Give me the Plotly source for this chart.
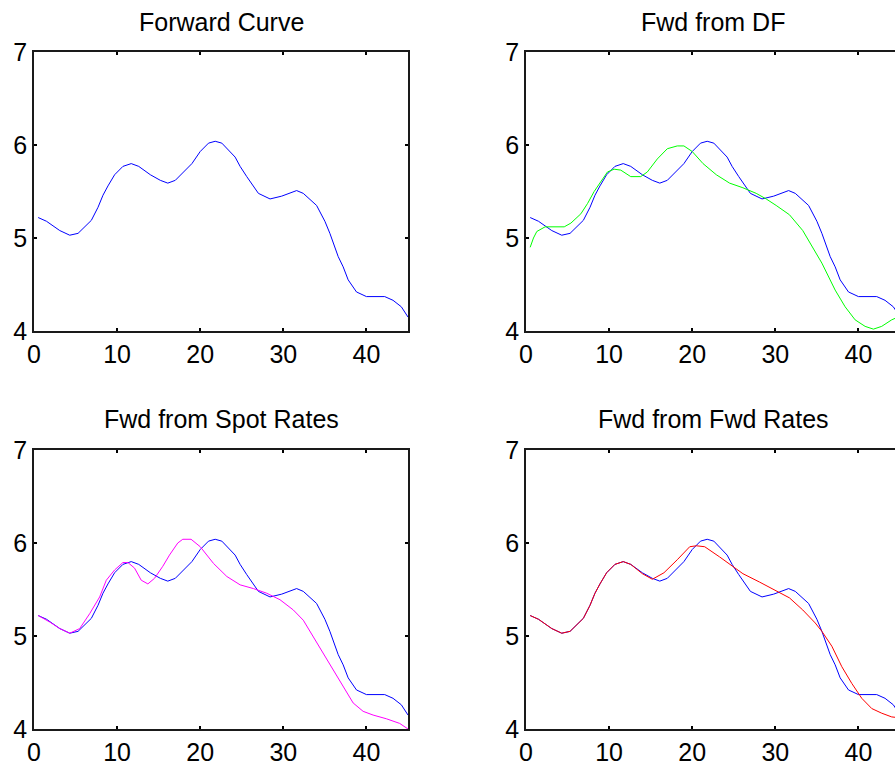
import plotly.graph_objects as go

# ---------------- data ----------------
fwd_x = [0.5, 1.5, 3.1, 4.3, 5.3, 6.9, 7.7, 8.3, 8.9, 9.7, 10.7, 11.7, 12.6, 14.0, 15.2,
         16.1, 17.0, 19.0, 20.0, 21.0, 21.8, 22.6, 24.2, 24.8, 25.6, 27.0, 28.4, 29.8,
         31.6, 32.4, 34.0, 35.0, 35.6, 36.2, 36.6, 37.2, 37.8, 38.8, 40.0, 42.2, 43.2,
         44.2, 45.0]
fwd_y = [5.22, 5.18, 5.08, 5.03, 5.05, 5.19, 5.33, 5.46, 5.56, 5.68, 5.77, 5.80, 5.77,
         5.68, 5.62, 5.59, 5.62, 5.80, 5.93, 6.02, 6.04, 6.02, 5.87, 5.77, 5.66, 5.48,
         5.42, 5.45, 5.51, 5.48, 5.35, 5.18, 5.05, 4.91, 4.80, 4.69, 4.55, 4.42, 4.37,
         4.37, 4.33, 4.26, 4.15]

df_x = [0.5, 0.9, 1.3, 2.3, 4.6, 5.4, 6.6, 7.4, 8.2, 9.0, 9.8, 10.6, 11.4, 12.6, 13.8,
        14.6, 15.8, 17.0, 18.2, 19.0, 20.0, 21.3, 22.9, 24.5, 26.1, 27.7, 28.9, 30.1,
        31.7, 33.3, 34.4, 35.6, 37.2, 38.4, 39.6, 40.8, 41.8, 42.8, 44.0, 45.0]
df_y = [4.90, 5.00, 5.07, 5.12, 5.12, 5.16, 5.26, 5.37, 5.50, 5.60, 5.71, 5.74, 5.73,
        5.66, 5.66, 5.71, 5.85, 5.96, 5.99, 5.99, 5.93, 5.80, 5.68, 5.59, 5.54, 5.48,
        5.42, 5.35, 5.25, 5.08, 4.91, 4.73, 4.44, 4.26, 4.12, 4.05, 4.02, 4.05, 4.12,
        4.16]

spot_x = [0.5, 1.9, 3.1, 4.3, 5.5, 6.7, 7.9, 8.7, 9.7, 10.7, 11.3, 12.1, 12.9, 13.7,
          14.5, 15.5, 16.3, 17.3, 17.9, 18.9, 20.0, 21.6, 23.2, 24.8, 26.4, 28.0, 29.6,
          31.2, 32.4, 33.6, 34.8, 36.0, 37.2, 38.4, 39.6, 40.8, 42.4, 44.0, 45.0]
spot_y = [5.22, 5.15, 5.08, 5.03, 5.08, 5.24, 5.42, 5.60, 5.71, 5.79, 5.79, 5.73, 5.60,
          5.56, 5.62, 5.75, 5.87, 6.00, 6.04, 6.04, 5.96, 5.78, 5.64, 5.55, 5.51, 5.46,
          5.39, 5.28, 5.17, 4.99, 4.81, 4.63, 4.46, 4.28, 4.19, 4.15, 4.11, 4.06, 4.00]

fr_x = [0.5, 1.5, 3.1, 4.3, 5.3, 6.9, 7.7, 8.3, 8.9, 9.7, 10.7, 11.7, 12.6, 14.0, 15.2,
        16.6, 18.2, 19.7, 20.5, 21.5, 23.3, 24.9, 26.1, 28.1, 30.1, 31.7, 33.3, 34.8,
        35.6, 36.8, 38.0, 39.2, 40.4, 41.6, 42.8, 44.0, 45.0]
fr_y = [5.22, 5.18, 5.08, 5.03, 5.05, 5.19, 5.33, 5.46, 5.56, 5.68, 5.77, 5.80, 5.77,
        5.67, 5.61, 5.68, 5.82, 5.96, 5.97, 5.96, 5.85, 5.75, 5.67, 5.58, 5.49, 5.41,
        5.28, 5.14, 5.05, 4.89, 4.67, 4.49, 4.33, 4.22, 4.17, 4.13, 4.12]

titles = ["Forward Curve", "Fwd from DF", "Fwd from Spot Rates", "Fwd from Fwd Rates"]
x_ticks = [0, 10, 20, 30, 40]
y_ticks = [4, 5, 6, 7]

# ---------------- layout geometry (pixels) ----------------
W, H = 895, 768
FONT = "Liberation Sans, Arial, Helvetica, sans-serif"
FS = 25

left_col = [34 / W, 408 / W]
right_col = [526 / W, 1.0]
right_xmax = 45 * (W - 526) / 374.0
top_row = [1 - 331 / H, 1 - 52 / H]
bot_row = [1 - 729 / H, 1 - 450 / H]

fig = go.Figure()

panels = [
    ("x", "y", [(fwd_x, fwd_y, "#0000ff")]),
    ("x2", "y2", [(fwd_x, fwd_y, "#0000ff"), (df_x, df_y, "#00ff00")]),
    ("x3", "y3", [(fwd_x, fwd_y, "#0000ff"), (spot_x, spot_y, "#ff00ff")]),
    ("x4", "y4", [(fwd_x, fwd_y, "#0000ff"), (fr_x, fr_y, "#ff0000")]),
]
for xa, ya, series in panels:
    for sx, sy, col in series:
        fig.add_trace(go.Scatter(x=sx, y=sy, mode="lines", xaxis=xa, yaxis=ya,
                                 line=dict(color=col, width=1), showlegend=False,
                                 hoverinfo="skip"))

def xax(domain, anchor, rng):
    return dict(domain=domain, anchor=anchor, range=rng, tickvals=x_ticks,
                ticks="inside", ticklen=3, tickwidth=1.5, tickcolor="black",
                showline=True, linecolor="#1a1a1a", linewidth=1.5, mirror="ticks",
                showgrid=False, zeroline=False, fixedrange=True, automargin=False,
                tickfont=dict(family=FONT, size=FS, color="black"))

def yax(domain, anchor, mirror):
    return dict(domain=domain, anchor=anchor, range=[4, 7], tickvals=y_ticks,
                ticks="inside", ticklen=3, tickwidth=1.5, tickcolor="black",
                showline=True, linecolor="#1a1a1a", linewidth=1.5, mirror=mirror,
                showgrid=False, zeroline=False, fixedrange=True, automargin=False,
                tickfont=dict(family=FONT, size=FS, color="black"))

fig.update_layout(
    template="none",
    width=W, height=H, margin=dict(l=0, r=0, t=0, b=0, pad=0),
    paper_bgcolor="white", plot_bgcolor="white",
    xaxis=xax(left_col, "y", [0, 45]), yaxis=yax(top_row, "x", "ticks"),
    xaxis2=xax(right_col, "y2", [0, right_xmax]), yaxis2=yax(top_row, "x2", False),
    xaxis3=xax(left_col, "y3", [0, 45]), yaxis3=yax(bot_row, "x3", "ticks"),
    xaxis4=xax(right_col, "y4", [0, right_xmax]), yaxis4=yax(bot_row, "x4", False),
)

title_pos = [((34 + 408) / 2, 22), ((526 + 900) / 2, 22),
             ((34 + 408) / 2, 419), ((526 + 900) / 2, 419)]
for t, (px, py) in zip(titles, title_pos):
    fig.add_annotation(text=t, xref="paper", yref="paper", x=px / W, y=1 - py / H,
                       xanchor="center", yanchor="middle", showarrow=False,
                       font=dict(family=FONT, size=FS, color="black"))

fig.write_html("out.html", config={"displayModeBar": False})
